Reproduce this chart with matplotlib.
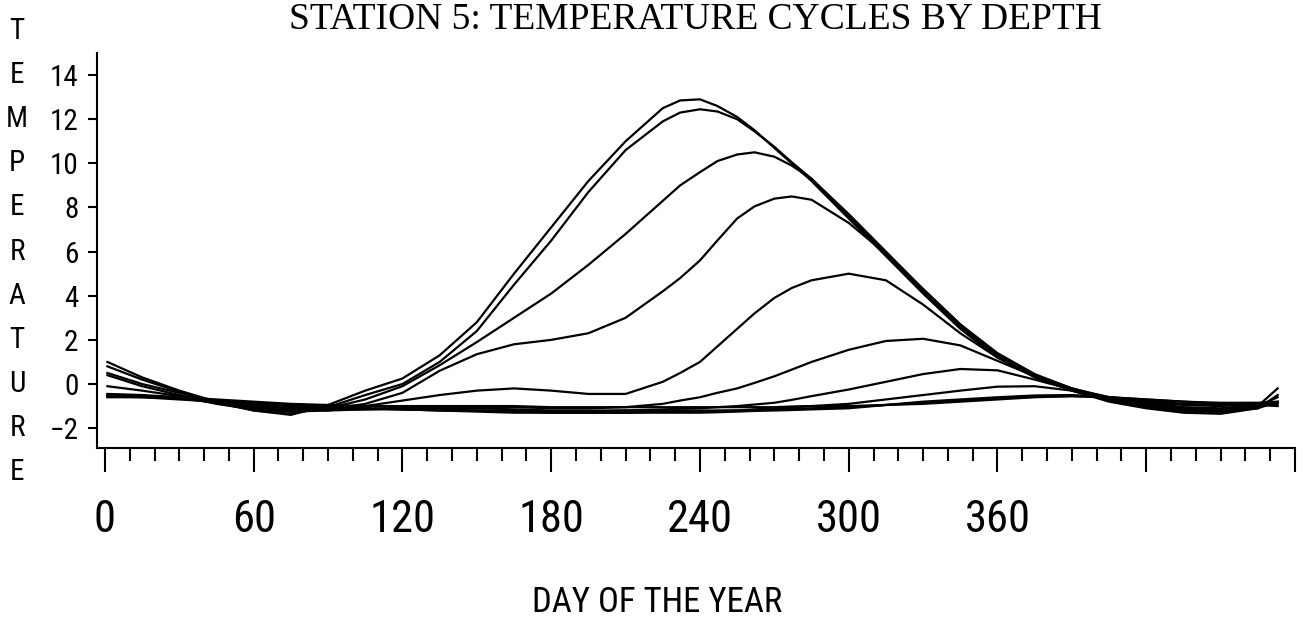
import matplotlib
matplotlib.use('Agg')
import matplotlib.pyplot as plt
from matplotlib import font_manager
from matplotlib.font_manager import FontProperties
from matplotlib.ticker import MultipleLocator
import matplotlib.transforms as mtransforms

# day of the year where the curves were read
days = [1, 15, 30, 45, 60, 75, 90, 105, 120, 135, 150, 165, 180, 195, 210, 225, 232,
        240, 247, 255, 262, 270, 277, 285, 300, 315, 330, 345, 360, 375, 390, 405, 420, 435, 450, 465, 473]

# temperature curves, shallow to deep
t1 = [1.0, 0.3, -0.3, -0.8, -1.2, -1.4, -0.95, -0.3, 0.25, 1.3, 2.8, 5.0, 7.1, 9.2, 11.0, 12.5, 12.85,
      12.9, 12.6, 12.1, 11.5, 10.7, 10.0, 9.2, 7.5, 5.8, 4.1, 2.5, 1.2, 0.3, -0.3, -0.75, -1.05, -1.28, -1.3, -1.0, -0.2]
t2 = [0.8, 0.2, -0.35, -0.85, -1.2, -1.35, -1.05, -0.5, 0.0, 1.0, 2.4, 4.5, 6.5, 8.7, 10.6, 11.9, 12.3,
      12.45, 12.35, 12.0, 11.45, 10.75, 10.05, 9.3, 7.6, 5.9, 4.2, 2.6, 1.3, 0.35, -0.3, -0.8, -1.1, -1.3, -1.35, -1.1, -0.5]
t3 = [0.5, 0.0, -0.4, -0.8, -1.1, -1.25, -1.1, -0.7, -0.1, 0.85, 1.9, 3.0, 4.1, 5.4, 6.8, 8.3, 9.0,
      9.6, 10.1, 10.4, 10.5, 10.3, 9.9, 9.3, 7.7, 6.0, 4.3, 2.7, 1.35, 0.4, -0.25, -0.7, -1.0, -1.2, -1.25, -1.0, -0.6]
t4 = [0.4, -0.1, -0.5, -0.85, -1.1, -1.2, -1.15, -0.9, -0.4, 0.6, 1.35, 1.8, 2.0, 2.3, 3.0, 4.2, 4.8,
      5.6, 6.5, 7.5, 8.05, 8.4, 8.5, 8.35, 7.3, 5.9, 4.3, 2.7, 1.4, 0.45, -0.2, -0.7, -1.0, -1.2, -1.25, -1.1, -0.8]
t5 = [-0.1, -0.3, -0.55, -0.9, -1.15, -1.25, -1.2, -1.0, -0.75, -0.5, -0.3, -0.2, -0.3, -0.45, -0.45, 0.1, 0.5,
      1.0, 1.7, 2.5, 3.2, 3.9, 4.35, 4.7, 5.0, 4.7, 3.6, 2.3, 1.2, 0.4, -0.2, -0.65, -0.95, -1.15, -1.2, -1.05, -0.85]
t6 = [-0.45, -0.5, -0.6, -0.85, -1.05, -1.15, -1.2, -1.15, -1.1, -1.05, -1.05, -1.05, -1.1, -1.1, -1.05, -0.9, -0.75,
      -0.6, -0.4, -0.2, 0.05, 0.35, 0.65, 1.0, 1.55, 1.95, 2.05, 1.75, 1.05, 0.35, -0.2, -0.6, -0.9, -1.1, -1.15, -1.0, -0.9]
t7 = [-0.5, -0.55, -0.65, -0.85, -1.0, -1.1, -1.15, -1.15, -1.15, -1.15, -1.2, -1.2, -1.25, -1.25, -1.2, -1.15, -1.12,
      -1.1, -1.05, -1.0, -0.93, -0.85, -0.72, -0.55, -0.25, 0.1, 0.45, 0.68, 0.62, 0.2, -0.25, -0.6, -0.85, -1.05, -1.1, -0.95, -0.85]
t8 = [-0.5, -0.55, -0.65, -0.8, -0.95, -1.05, -1.1, -1.1, -1.15, -1.2, -1.2, -1.25, -1.3, -1.3, -1.3, -1.25, -1.25,
      -1.25, -1.22, -1.2, -1.15, -1.1, -1.05, -1.0, -0.9, -0.7, -0.5, -0.3, -0.12, -0.1, -0.3, -0.6, -0.8, -0.95, -1.0, -0.9, -0.85]
t9 = [-0.55, -0.6, -0.7, -0.8, -0.9, -1.0, -1.05, -1.1, -1.15, -1.2, -1.25, -1.3, -1.3, -1.3, -1.3, -1.3, -1.3,
      -1.3, -1.28, -1.25, -1.22, -1.2, -1.18, -1.15, -1.1, -0.95, -0.8, -0.7, -0.6, -0.52, -0.5, -0.6, -0.75, -0.9, -0.95, -0.9, -0.85]
t10 = [-0.55, -0.55, -0.6, -0.7, -0.8, -0.9, -0.95, -1.0, -1.05, -1.1, -1.1, -1.15, -1.2, -1.2, -1.2, -1.2, -1.2,
       -1.2, -1.2, -1.2, -1.18, -1.15, -1.12, -1.1, -1.05, -0.95, -0.85, -0.75, -0.65, -0.58, -0.55, -0.6, -0.7, -0.8, -0.85, -0.85, -0.8]
t11 = [-0.6, -0.6, -0.65, -0.75, -0.85, -0.95, -1.0, -1.0, -1.0, -1.0, -1.0, -1.0, -1.05, -1.05, -1.05, -1.05, -1.05,
       -1.05, -1.05, -1.05, -1.05, -1.05, -1.02, -1.0, -1.0, -0.95, -0.9, -0.8, -0.7, -0.6, -0.55, -0.6, -0.7, -0.8, -0.9, -0.95, -1.0]
curves = [t1, t2, t3, t4, t5, t6, t7, t8, t9, t10, t11]

x_major = [0, 60, 120, 180, 240, 300, 360, 420, 480]
x_labels = ['0', '60', '120', '180', '240', '300', '360', '', '']
y_ticks = [-2, 0, 2, 4, 6, 8, 10, 12, 14]
ylabel_letters = list('TEMPERATURE')


def pick_narrow():
    # look for a condensed sans face, the plot uses a narrow plotter font
    fonts = font_manager.fontManager.ttflist
    prefs = ['Liberation Sans Narrow', 'Roboto Condensed', 'Open Sans Condensed', 'Noto Sans Condensed',
             'DejaVu Sans Condensed']
    for p in prefs:
        for f in fonts:
            if f.name == p and f.style == 'normal' and f.weight in (400, 'normal', 'regular'):
                return FontProperties(fname=f.fname)
    for f in fonts:
        if 'Sans' in f.name and f.stretch in ('condensed', 'semi-condensed', 'extra-condensed') \
                and f.style == 'normal' and f.weight in (400, 'normal', 'regular'):
            return FontProperties(fname=f.fname)
    return FontProperties(family='DejaVu Sans')


narrow = pick_narrow()
names = {f.name for f in font_manager.fontManager.ttflist}
serif = 'Liberation Serif' if 'Liberation Serif' in names else 'DejaVu Serif'

fig = plt.figure(figsize=(13.06, 6.27), dpi=100)
ax = fig.add_axes([97/1306, 1 - 448/627, (1295 - 97)/1306, (448 - 53)/627])

for t in curves:
    ax.plot(days, t, color='black', lw=1.6)

ax.set_xlim(-3.2, 480)
ax.set_ylim(-2.9, 15)

ax.spines['top'].set_visible(False)
ax.spines['right'].set_visible(False)
ax.spines['left'].set_linewidth(1.5)
ax.spines['bottom'].set_linewidth(1.5)

ax.set_xticks(x_major)
ax.set_xticklabels(x_labels)
ax.xaxis.set_minor_locator(MultipleLocator(10))
ax.tick_params(axis='x', which='major', direction='out', length=17, width=1.5, pad=20)
ax.tick_params(axis='x', which='minor', direction='out', length=9.5, width=1.5)
ax.set_yticks(y_ticks)
ax.tick_params(axis='y', which='major', direction='out', length=6.5, width=1.5, pad=7)
for lab in ax.get_xticklabels():
    lab.set_fontproperties(narrow)
    lab.set_fontsize(32)
for lab in ax.get_yticklabels():
    lab.set_fontproperties(narrow)
    lab.set_fontsize(21)

# stacked y label letters, one per tick row
trans = mtransforms.blended_transform_factory(fig.transFigure, ax.transData)
for i, ch in enumerate(ylabel_letters):
    ax.text(17/1306, 16 - 2*i, ch, transform=trans, ha='center', va='center',
            fontproperties=narrow, fontsize=21, clip_on=False)

fig.text(657/1306, 1 - 603/627, 'DAY OF THE YEAR', ha='center', va='center',
         fontproperties=narrow, fontsize=25)
fig.text(695/1306, 1 - 29/627, 'STATION 5: TEMPERATURE CYCLES BY DEPTH', ha='center',
         va='baseline', fontsize=27, family=serif)

fig.savefig('out.png', dpi=100)
